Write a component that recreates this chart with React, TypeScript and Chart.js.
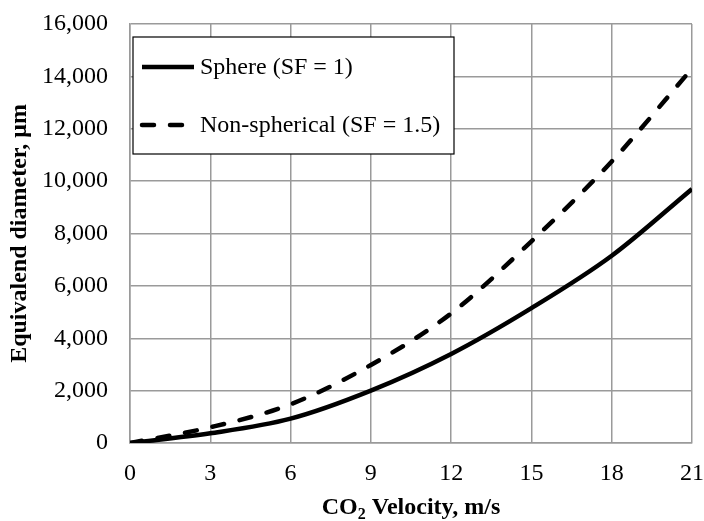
import React, { useEffect, useRef } from "react";
import { Chart, registerables } from "chart.js";

Chart.register(...registerables);

// ---- data ----
const velocity = [0, 3, 6, 9, 12, 15, 18, 21];
const sphere = [0, 370, 930, 2000, 3400, 5150, 7150, 9700];
const nonSpherical = [0, 600, 1480, 2980, 4950, 7700, 10750, 14300];
const seriesLabels = ["Sphere (SF = 1)", "Non-spherical (SF = 1.5)"];
const xTickValues = [0, 3, 6, 9, 12, 15, 18, 21];
const yTickValues = [0, 2000, 4000, 6000, 8000, 10000, 12000, 14000, 16000];
const xTitleParts = ["CO", "2", " Velocity, m/s"];
const yTitle = "Equivalend diameter, μm";

const FONT = '"Liberation Serif", "Times New Roman", serif';
const GRID = "#9a9a9a";

const overlayPlugin = {
  id: "overlay",
  afterDatasetsDraw(chart: any) {
    const ctx = chart.ctx;
    const ca = chart.chartArea;
    // legend box
    const bx = ca.left + 3;
    const by = ca.top + 13;
    const bw = 321;
    const bh = 117;
    ctx.save();
    ctx.fillStyle = "#ffffff";
    ctx.fillRect(bx, by, bw, bh);
    ctx.strokeStyle = "#000000";
    ctx.lineWidth = 1.2;
    ctx.strokeRect(bx, by, bw, bh);
    const rows = [by + 30, by + 88];
    chart.data.datasets.forEach((ds: any, i: number) => {
      const y = rows[i];
      ctx.beginPath();
      ctx.setLineDash(ds.borderDash || []);
      ctx.lineCap = ds.borderDash ? "round" : "butt";
      ctx.lineWidth = ds.borderWidth;
      ctx.strokeStyle = ds.borderColor;
      ctx.moveTo(bx + 9, y);
      ctx.lineTo(bx + 61, y);
      ctx.stroke();
      ctx.setLineDash([]);
      ctx.fillStyle = "#000";
      ctx.font = `24px ${FONT}`;
      ctx.textBaseline = "middle";
      ctx.textAlign = "left";
      ctx.fillText(ds.label, bx + 67, y + 1);
    });
    ctx.restore();
  },
  afterDraw(chart: any) {
    const ctx = chart.ctx;
    const ca = chart.chartArea;
    ctx.save();
    ctx.fillStyle = "#000";
    // x title with subscript
    const big = `bold 24px ${FONT}`;
    const small = `bold 16px ${FONT}`;
    ctx.font = big;
    const w1 = ctx.measureText(xTitleParts[0]).width;
    const w3 = ctx.measureText(xTitleParts[2]).width;
    ctx.font = small;
    const w2 = ctx.measureText(xTitleParts[1]).width;
    const total = w1 + w2 + w3;
    let x = (ca.left + ca.right) / 2 - total / 2;
    const base = 514;
    ctx.textBaseline = "alphabetic";
    ctx.textAlign = "left";
    ctx.font = big;
    ctx.fillText(xTitleParts[0], x, base);
    x += w1;
    ctx.font = small;
    ctx.fillText(xTitleParts[1], x, base + 5);
    x += w2;
    ctx.font = big;
    ctx.fillText(xTitleParts[2], x, base);
    // y title
    ctx.translate(26, (ca.top + ca.bottom) / 2);
    ctx.rotate(-Math.PI / 2);
    ctx.font = big;
    ctx.textAlign = "center";
    ctx.textBaseline = "alphabetic";
    ctx.fillText(yTitle, 0, 0);
    ctx.restore();
  },
};

const zeroPad = (s: any) => {
  s.paddingTop = 0;
  s.paddingBottom = 0;
  s.paddingLeft = 0;
  s.paddingRight = 0;
};

export default function App() {
  const ref = useRef<HTMLCanvasElement | null>(null);
  useEffect(() => {
    if (!ref.current) return;
    const chart = new Chart(ref.current, {
      type: "line",
      data: {
        datasets: [
          {
            label: seriesLabels[0],
            data: velocity.map((v, i) => ({ x: v, y: sphere[i] })),
            borderColor: "#000000",
            borderWidth: 4.5,
            pointRadius: 0,
            cubicInterpolationMode: "monotone",
            fill: false,
          },
          {
            label: seriesLabels[1],
            data: velocity.map((v, i) => ({ x: v, y: nonSpherical[i] })),
            borderColor: "#000000",
            borderWidth: 4.5,
            borderDash: [12, 16],
            borderCapStyle: "round",
            pointRadius: 0,
            cubicInterpolationMode: "monotone",
            fill: false,
          },
        ],
      },
      options: {
        responsive: false,
        animation: false,
        layout: { padding: { top: 24, right: 12, left: 0, bottom: 0 } },
        plugins: {
          legend: { display: false },
          tooltip: { enabled: false },
        },
        scales: {
          x: {
            type: "linear",
            min: 0,
            max: 21,
            afterBuildTicks: (s: any) => {
              s.ticks = xTickValues.map((v) => ({ value: v }));
            },
            afterFit: (s: any) => {
              s.height = 78;
              zeroPad(s);
            },
            ticks: {
              color: "#000",
              font: { family: FONT, size: 24 },
              padding: 16,
              maxRotation: 0,
            },
            grid: { color: GRID, lineWidth: 1.5, drawTicks: false },
            border: { color: GRID, width: 1.5 },
          },
          y: {
            type: "linear",
            min: 0,
            max: 16000,
            afterBuildTicks: (s: any) => {
              s.ticks = yTickValues.map((v) => ({ value: v }));
            },
            afterFit: (s: any) => {
              s.width = 130;
              zeroPad(s);
            },
            ticks: {
              color: "#000",
              font: { family: FONT, size: 24 },
              padding: 22,
              callback: (v: any) => Number(v).toLocaleString("en-US"),
            },
            grid: { color: GRID, lineWidth: 1.5, drawTicks: false },
            border: { color: GRID, width: 1.5 },
          },
        },
      },
      plugins: [overlayPlugin],
    } as any);
    return () => chart.destroy();
  }, []);
  return (
    <div style={{ position: "fixed", left: 0, top: 0, width: 704, height: 521, background: "#fff" }}>
      <canvas ref={ref} width={704} height={521} style={{ display: "block" }} />
    </div>
  );
}
